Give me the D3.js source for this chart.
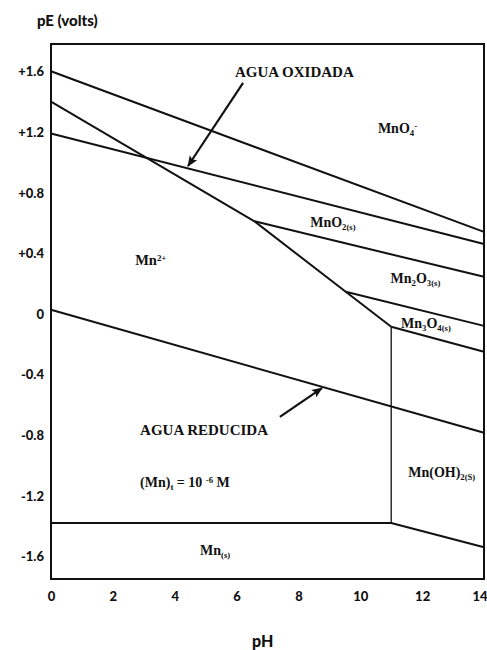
<!DOCTYPE html>
<html>
<head>
<meta charset="utf-8">
<script src="https://cdn.jsdelivr.net/npm/d3@7"></script>
<style>
  html, body { margin: 0; padding: 0; background: #fff; }
  svg { display: block; }
  .lbl { font-family: "Liberation Serif", "Times New Roman", serif; fill: #111; }
  .ax { font-family: Lato, "Liberation Sans", sans-serif; font-weight: 900; fill: #111; }
</style>
</head>
<body>
<svg id="chart" width="487" height="650"></svg>
<script>
// ---- data (pH, pE in volts) ----
const xTicks = [0, 2, 4, 6, 8, 10, 12, 14];
const yTicks = [1.6, 1.2, 0.8, 0.4, 0, -0.4, -0.8, -1.2, -1.6];
const yTickLabels = ["+1.6", "+1.2", "+0.8", "+0.4", "0", "-0.4", "-0.8", "-1.2", "-1.6"];

const lineMnO4 = [[0, 1.60], [14, 0.54]];
const lineWaterOx = [[0, 1.19], [14, 0.46]];
const lineMn2 = [[0, 1.40], [6.58, 0.61], [9.53, 0.145], [11, -0.086]];
const lineMnO2Mn2O3 = [[6.58, 0.61], [14, 0.244]];
const lineMn2O3Mn3O4 = [[9.53, 0.145], [14, -0.08]];
const lineMn3O4MnOH2 = [[11, -0.086], [14, -0.25]];
const lineMnOH2Vert = [[11, -0.086], [11, -1.38]];
const lineMnSolid = [[0, -1.38], [11, -1.38], [14, -1.54]];
const lineWaterRed = [[0, 0.026], [14, -0.785]];

const arrowOx = [[6.21, 1.524], [4.43, 0.975]];
const arrowRed = [[7.40, -0.68], [8.76, -0.49]];

const svg = d3.select("#chart");
const x = d3.scaleLinear().domain([0, 14]).range([51, 484]);
const y = d3.scaleLinear().domain([-1.75, 1.78]).range([579, 44]);

const line = d3.line().x(d => x(d[0])).y(d => y(d[1]));

// frame
svg.append("rect")
  .attr("x", x(0)).attr("y", y(1.78))
  .attr("width", x(14) - x(0)).attr("height", y(-1.75) - y(1.78))
  .attr("fill", "none").attr("stroke", "#111").attr("stroke-width", 2);

// axes (labels only)
const yAxis = d3.axisLeft(y).tickValues(yTicks).tickSize(0).tickPadding(7)
  .tickFormat((d, i) => yTickLabels[i]);
const gy = svg.append("g").attr("transform", `translate(${x(0)},0)`).call(yAxis);
gy.select(".domain").remove();
gy.selectAll("text").attr("class", "ax").attr("font-size", 13).attr("dy", "0.35em")
  .attr("font-family", null);

const xAxis = d3.axisBottom(x).tickValues(xTicks).tickSize(0).tickPadding(13);
const gx = svg.append("g").attr("transform", `translate(0,${y(-1.75)})`).call(xAxis);
gx.select(".domain").remove();
gx.selectAll("text").attr("class", "ax").attr("font-size", 13).attr("font-family", null);
gx.selectAll(".tick").filter(d => d === 14).select("text")
  .attr("text-anchor", "end").attr("x", 3);

// boundary lines
const thick = [lineMnO4, lineWaterOx, lineMn2, lineMnO2Mn2O3, lineMn2O3Mn3O4,
               lineMn3O4MnOH2, lineMnSolid, lineWaterRed];
svg.append("g").selectAll("path").data(thick).join("path")
  .attr("d", line).attr("fill", "none").attr("stroke", "#111")
  .attr("stroke-width", 2).attr("stroke-linejoin", "round");
svg.append("path").attr("d", line(lineMnOH2Vert)).attr("fill", "none")
  .attr("stroke", "#111").attr("stroke-width", 1.3);

// arrow marker
svg.append("defs").append("marker")
  .attr("id", "ah").attr("viewBox", "0 0 10 10").attr("refX", 9).attr("refY", 5)
  .attr("markerWidth", 6).attr("markerHeight", 5).attr("orient", "auto")
  .attr("markerUnits", "strokeWidth")
  .append("path").attr("d", "M0,1 L10,5 L0,9 L2,5 Z").attr("fill", "#111");

[arrowOx, arrowRed].forEach(a => {
  svg.append("path").attr("d", line(a)).attr("fill", "none")
    .attr("stroke", "#111").attr("stroke-width", 2.2).attr("marker-end", "url(#ah)");
});

// text labels
function label(px, py, parts, size, weight) {
  const t = svg.append("text").attr("class", "lbl")
    .attr("x", x(px)).attr("y", y(py)).attr("font-size", size)
    .attr("font-weight", weight || "bold");
  parts.forEach(p => {
    const s = t.append("tspan").text(p[0]);
    if (p[1] === "sub") s.attr("font-size", size * 0.62).attr("baseline-shift", "-30%");
    if (p[1] === "sup") s.attr("font-size", size * 0.62).attr("baseline-shift", "45%");
  });
  return t;
}

label(5.95, 1.565, [["AGUA OXIDADA"]], 15);
label(2.88, -0.80, [["AGUA REDUCIDA"]], 15);
label(2.88, -1.14, [["(Mn)"], ["t", "sub"], [" = 10 "], ["-6", "sup"], [" M"]], 14);
label(2.72, 0.32, [["Mn"], ["2+", "sup"]], 14.5);
label(10.57, 1.196, [["MnO"], ["4", "sub"], ["-", "sup"]], 14);
label(8.38, 0.575, [["MnO"], ["2(s)", "sub"]], 14);
label(10.98, 0.205, [["Mn"], ["2", "sub"], ["O"], ["3(s)", "sub"]], 14);
label(11.32, -0.092, [["Mn"], ["3", "sub"], ["O"], ["4(s)", "sub"]], 14);
label(11.55, -1.075, [["Mn(OH)"], ["2(S)", "sub"]], 14);
label(4.82, -1.59, [["Mn"], ["(s)", "sub"]], 14);

svg.append("text").attr("class", "ax").attr("x", 37).attr("y", 26)
  .attr("font-size", 15).text("pE (volts)");
svg.append("text").attr("class", "ax").attr("x", 252).attr("y", 647)
  .attr("font-size", 16).text("pH");
</script>
</body>
</html>
